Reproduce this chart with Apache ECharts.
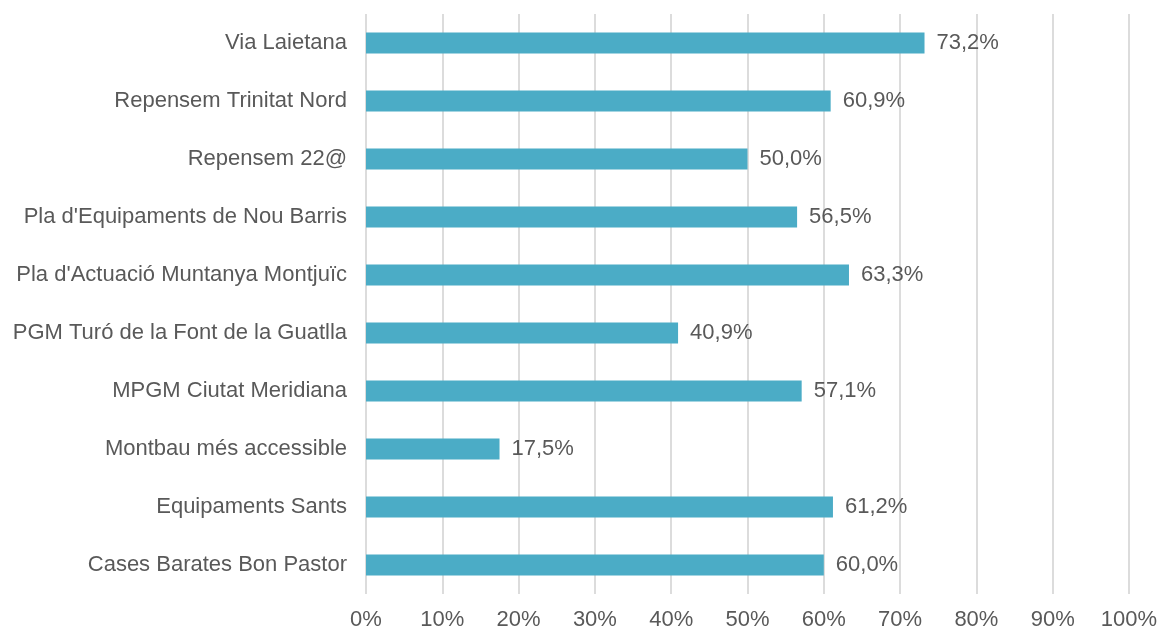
<!DOCTYPE html>
<html>
<head>
<meta charset="utf-8">
<script src="https://cdn.jsdelivr.net/npm/echarts@6/dist/echarts.min.js"></script>
<style>
  html, body { margin: 0; padding: 0; background: #fff; }
  #chart { width: 1161px; height: 631px; }
</style>
</head>
<body>
<div id="chart"></div>
<script>
// categories bottom -> top
const categories = [
  'Cases Barates Bon Pastor',
  'Equipaments Sants',
  'Montbau més accessible',
  'MPGM Ciutat Meridiana',
  'PGM Turó de la Font de la Guatlla',
  "Pla d'Actuació Muntanya Montjuïc",
  "Pla d'Equipaments de Nou Barris",
  'Repensem 22@',
  'Repensem Trinitat Nord',
  'Via Laietana'
]
const values = [60.0, 61.2, 17.5, 57.1, 40.9, 63.3, 56.5, 50.0, 60.9, 73.2]

const chart = echarts.init(document.getElementById('chart'))
const textColor = '#595959'
const font = 'Liberation Sans, Arial, sans-serif'

chart.setOption({
  animation: false,
  grid: {
    left: 366,
    right: 32,
    top: 14,
    bottom: 37
  },
  xAxis: {
    type: 'value',
    min: 0,
    max: 100,
    interval: 10,
    axisLine: { show: false },
    axisTick: { show: false },
    axisLabel: {
      color: textColor,
      fontSize: 22,
      fontFamily: font,
      margin: 15,
      formatter: v => v + '%'
    },
    splitLine: { lineStyle: { color: '#d0d0d0', width: 1.5 } }
  },
  yAxis: {
    type: 'category',
    data: categories,
    axisLine: { show: false },
    axisTick: { show: false },
    axisLabel: {
      color: textColor,
      fontSize: 22,
      fontFamily: font,
      margin: 19
    }
  },
  series: [
    {
      type: 'bar',
      data: values,
      barWidth: 21,
      itemStyle: { color: '#4BACC6' },
      label: {
        show: true,
        position: 'right',
        distance: 12,
        color: textColor,
        fontSize: 22,
        fontFamily: font,
        formatter: p => p.value.toFixed(1).replace('.', ',') + '%'
      }
    }
  ]
})
</script>
</body>
</html>
